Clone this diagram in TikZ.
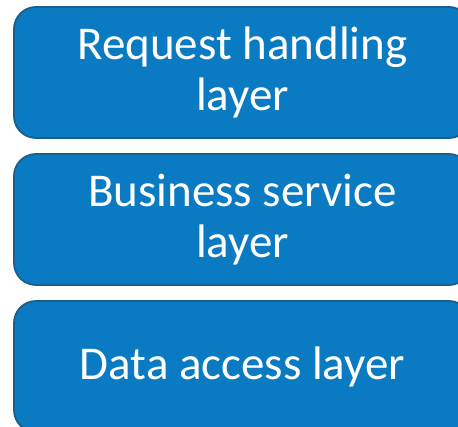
\documentclass[tikz,border=0pt]{standalone}
\usepackage{fontspec}
\setmainfont{Carlito}
\definecolor{layerfill}{HTML}{0A7BC2}
\definecolor{layerline}{HTML}{1B5E8C}
\begin{document}
\begin{tikzpicture}[x=1pt,y=-1pt,
  layerbox/.style={draw=layerline, line width=1.8pt, fill=layerfill, rounded corners=22pt,
    minimum width=457pt, minimum height=131pt, inner sep=0pt, text=white,
    align=center, font=\fontsize{47}{51}\selectfont}]
\useasboundingbox (0,0) rectangle (458,427);
\begin{scope}
\clip (0,0) rectangle (458,427);
\node[layerbox] (req) at (242.5,72.5) {Request handling\\layer};
\node[layerbox] (bus) at (242.5,219.5) {Business service\\layer};
\node[layerbox] (dat) at (242.5,366.5) {Data access layer};
\end{scope}
\end{tikzpicture}
\end{document}
